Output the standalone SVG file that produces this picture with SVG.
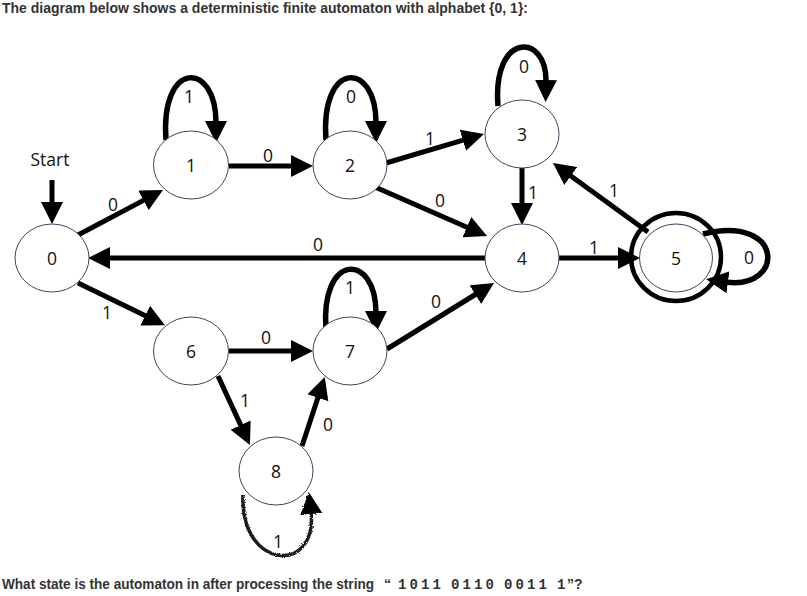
<svg xmlns="http://www.w3.org/2000/svg" width="807" height="596" viewBox="0 0 807 596">
<style>
.hdr{font-family:"Liberation Sans",Arial,sans-serif;font-weight:bold;font-size:14px;fill:#333}
.mono{font-family:"Liberation Mono",monospace;font-weight:bold;font-size:14px;fill:#333}
.node ellipse{fill:#fff;stroke:#3b4660;stroke-width:1}
.lbl{font-family:"Open Sans","Noto Sans",sans-serif;font-size:17.5px;fill:#111;text-anchor:middle}
.edge{fill:none;stroke:#000;stroke-width:5}
.loop{fill:none;stroke:#000;stroke-width:5.5}
</style>
<defs>
<marker id="ah" markerUnits="userSpaceOnUse" markerWidth="24" markerHeight="22" refX="2" refY="11" orient="auto" viewBox="0 0 24 22">
<path d="M0,0 L22,11 L0,22 z" fill="#000"/>
</marker>
<filter id="rough" x="-20%" y="-20%" width="140%" height="140%">
<feTurbulence type="fractalNoise" baseFrequency="0.9" numOctaves="2" seed="3"/>
<feDisplacementMap in="SourceGraphic" scale="3"/>
</filter>
</defs>
<rect width="807" height="596" fill="#fff"/>
<text class="hdr" x="2" y="13" textLength="526" lengthAdjust="spacingAndGlyphs">The diagram below shows a deterministic finite automaton with alphabet {0, 1}:</text>
<g id="connectors">
<path class="edge" d="M52,180 L52,204" marker-end="url(#ah)"/>
<path class="edge" d="M78,235 L145.3,199.4" marker-end="url(#ah)"/>
<path class="edge" d="M78,283 L147,316.5" marker-end="url(#ah)"/>
<path class="edge" d="M485,258 L108,258" marker-end="url(#ah)"/>
<path class="edge" d="M229,166 L293,166" marker-end="url(#ah)"/>
<path class="loop" d="M166,140 C160,60 216,60 216,123" marker-end="url(#ah)"/>
<path class="loop" d="M326,140 C320,60 376,60 376,123" marker-end="url(#ah)"/>
<path class="edge" d="M386,163 L464.8,139.7" marker-end="url(#ah)"/>
<path class="edge" d="M375,187 L468.7,228" marker-end="url(#ah)"/>
<path class="loop" d="M498,106 C492,32 547,32 546,82" marker-end="url(#ah)"/>
<path class="edge" d="M522,168 L522,205" marker-end="url(#ah)"/>
<path class="edge" d="M648,232 L569.2,174.8" marker-end="url(#ah)"/>
<path class="edge" d="M559,258 L620,258" marker-end="url(#ah)"/>
<path class="loop" d="M703,234 C785,214 785,290 726,282" marker-end="url(#ah)"/>
<path class="edge" d="M229,351 L293,351" marker-end="url(#ah)"/>
<path class="edge" d="M218,376 L241.5,426.9" marker-end="url(#ah)"/>
<path class="edge" d="M302,446 L318.5,395.9" marker-end="url(#ah)"/>
<path class="loop" d="M326,330 C320,252 376,252 376,313" marker-end="url(#ah)"/>
<path class="edge" d="M387,349 L477,293.5" marker-end="url(#ah)"/>
<path d="M243,495 C240,570 318,575 311,512" fill="none" stroke="#1a1a1a" stroke-width="3.5" filter="url(#rough)" marker-end="url(#ah)"/>
</g>
<g id="edge-labels">
<text class="lbl" x="50" y="166">Start</text>
<text class="lbl" x="113" y="211">0</text>
<text class="lbl" x="107" y="319">1</text>
<text class="lbl" x="318" y="251">0</text>
<text class="lbl" x="268" y="162">0</text>
<text class="lbl" x="189" y="103">1</text>
<text class="lbl" x="351" y="103">0</text>
<text class="lbl" x="430" y="145">1</text>
<text class="lbl" x="440" y="207">0</text>
<text class="lbl" x="524" y="73">0</text>
<text class="lbl" x="533" y="199">1</text>
<text class="lbl" x="614" y="197">1</text>
<text class="lbl" x="594" y="254">1</text>
<text class="lbl" x="749" y="264">0</text>
<text class="lbl" x="266" y="344">0</text>
<text class="lbl" x="245" y="407">1</text>
<text class="lbl" x="328" y="431">0</text>
<text class="lbl" x="350" y="294">1</text>
<text class="lbl" x="436" y="308">0</text>
<text class="lbl" x="278" y="548">1</text>
</g>
<g id="node0" class="node"><ellipse cx="52" cy="258" rx="37" ry="34"/><text class="lbl" x="52" y="264.5">0</text></g>
<g id="node1" class="node"><ellipse cx="191" cy="165" rx="37.5" ry="34"/><text class="lbl" x="191" y="171.5">1</text></g>
<g id="node2" class="node"><ellipse cx="350" cy="165" rx="37" ry="34"/><text class="lbl" x="350" y="171.5">2</text></g>
<g id="node3" class="node"><ellipse cx="522" cy="134" rx="37" ry="34"/><text class="lbl" x="522" y="140.5">3</text></g>
<g id="node4" class="node"><ellipse cx="522" cy="258" rx="37" ry="34"/><text class="lbl" x="522" y="264.5">4</text></g>
<g id="node5" class="node"><ellipse cx="676" cy="257" rx="45" ry="44" style="fill:none;stroke:#000;stroke-width:4.5"/><ellipse cx="676" cy="258" rx="36.5" ry="34"/><text class="lbl" x="676" y="264.5">5</text></g>
<g id="node6" class="node"><ellipse cx="191" cy="351" rx="37.5" ry="34"/><text class="lbl" x="191" y="357.5">6</text></g>
<g id="node7" class="node"><ellipse cx="350" cy="351" rx="37" ry="34"/><text class="lbl" x="350" y="357.5">7</text></g>
<g id="node8" class="node"><ellipse cx="276" cy="471" rx="37" ry="34"/><text class="lbl" x="276" y="477.5">8</text></g>
<text class="hdr" y="589"><tspan x="2" textLength="372" lengthAdjust="spacingAndGlyphs">What state is the automaton in after processing the string</tspan><tspan x="384">“</tspan><tspan class="mono"><tspan x="398">1</tspan><tspan x="409.5">0</tspan><tspan x="421">1</tspan><tspan x="432.5">1</tspan><tspan x="451">0</tspan><tspan x="462.5">1</tspan><tspan x="474">1</tspan><tspan x="485.5">0</tspan><tspan x="504">0</tspan><tspan x="515.5">0</tspan><tspan x="527">1</tspan><tspan x="538.5">1</tspan><tspan x="557">1</tspan></tspan><tspan x="567">”?</tspan></text>
</svg>
